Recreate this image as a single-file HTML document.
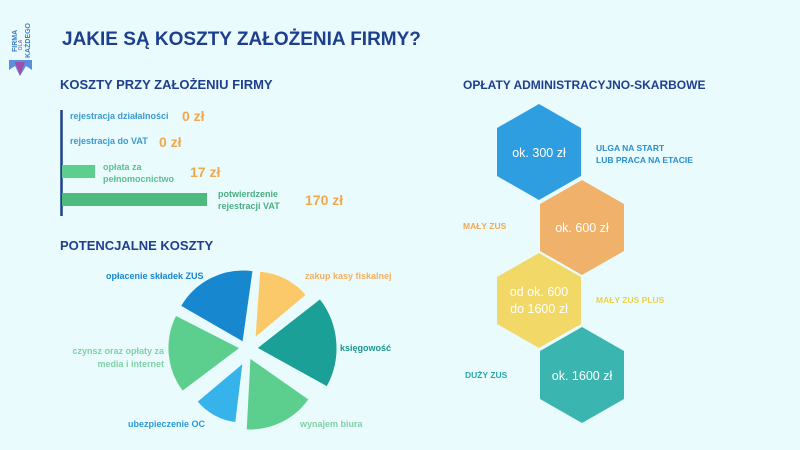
<!DOCTYPE html>
<html><head><meta charset="utf-8"><style>
body{margin:0;width:800px;height:450px;background:#eafbfd;overflow:hidden;font-family:"Liberation Sans",sans-serif}
svg{position:absolute;left:0;top:0}
</style></head><body>
<svg width="800" height="450" viewBox="0 0 800 450" font-family="Liberation Sans, sans-serif" font-weight="bold">
<!-- logo -->
<text x="17" y="52" font-size="7" fill="#3a7fc8" transform="rotate(-90 17 52)">FIRMA</text>
<text x="22" y="50" font-size="5" fill="#8a6fc8" transform="rotate(-90 22 50)">DLA</text>
<text x="30" y="58" font-size="7" fill="#3a7fc8" transform="rotate(-90 30 58)">KAŻDEGO</text>
<polygon points="9,60 32,60 32,70 26,66 20,76 15,66 9,70" fill="#5a8ee0"/>
<polygon points="15,62 25,62 20,76" fill="#a04fa8"/>
<text x="62" y="45" font-size="19" fill="#1d3f8e">JAKIE SĄ KOSZTY ZAŁOŻENIA FIRMY?</text>
<text x="60" y="89" font-size="13" fill="#1d3f8e">KOSZTY PRZY ZAŁOŻENIU FIRMY</text>
<line x1="61.5" y1="110" x2="61.5" y2="216" stroke="#1d3f8e" stroke-width="2.5"/>
<text x="70" y="119" font-size="9" fill="#3a9ad0">rejestracja działalności</text>
<text x="182" y="121" font-size="14" fill="#f0a850">0 zł</text>
<text x="70" y="144" font-size="9" fill="#3a9ad0">rejestracja do VAT</text>
<text x="159" y="147" font-size="14" fill="#f0a850">0 zł</text>
<rect x="62" y="165" width="33" height="13" fill="#5ccf8e"/>
<text x="103" y="170" font-size="9" fill="#5cbf8e">opłata za</text>
<text x="103" y="182" font-size="9" fill="#5cbf8e">pełnomocnictwo</text>
<text x="190" y="177" font-size="14" fill="#f0a850">17 zł</text>
<rect x="62" y="193" width="145" height="13" fill="#4dbb7d"/>
<text x="218" y="197" font-size="9" fill="#4aae80">potwierdzenie</text>
<text x="218" y="209" font-size="9" fill="#4aae80">rejestracji VAT</text>
<text x="305" y="205" font-size="14" fill="#f0a850">170 zł</text>
<text x="60" y="250" font-size="13" fill="#1d3f8e">POTENCJALNE KOSZTY</text>
<g stroke="#eafbfd" stroke-width="1">
<path d="M243,342 L180.6,306 A72 72 0 0 1 253,270.7 Z" fill="#1787d0"/>
<path d="M255,338 L259.7,271.2 A67 67 0 0 1 306.3,294.9 Z" fill="#fcc96a"/>
<path d="M257,348 L320,298.7 A80 80 0 0 1 327,386.8 Z" fill="#1aa096"/>
<path d="M250,358 L309,399.3 A72 72 0 0 1 246.2,429.9 Z" fill="#5ccf8e"/>
<path d="M243,363 L235.7,422.6 A60 60 0 0 1 197,401.6 Z" fill="#36b3ea"/>
<path d="M240,348 L182.5,391.3 A72 72 0 0 1 175.8,315.3 Z" fill="#5ccf8e"/>
</g>
<text x="106" y="279" font-size="9" fill="#1787d0">opłacenie składek ZUS</text>
<text x="305" y="279" font-size="9" fill="#f5b060">zakup kasy fiskalnej</text>
<text x="340" y="351" font-size="9" fill="#1a958e">księgowość</text>
<text x="164" y="354" font-size="9" fill="#7fd2a6" text-anchor="end">czynsz oraz opłaty za</text>
<text x="164" y="367" font-size="9" fill="#7fd2a6" text-anchor="end">media i internet</text>
<text x="128" y="427" font-size="9" fill="#2a9ad8">ubezpieczenie OC</text>
<text x="300" y="427" font-size="9" fill="#7fd2a6">wynajem biura</text>
<text x="463" y="89" font-size="12" fill="#1d3f8e">OPŁATY ADMINISTRACYJNO-SKARBOWE</text>
<polygon points="539,104 581,128 581,176 539,200 497,176 497,128" fill="#2f9ee0"/>
<polygon points="582,180 624,204 624,251 582,275 540,251 540,204" fill="#f0b26a"/>
<polygon points="539,253 581,277 581,324 539,348 497,324 497,277" fill="#f2d866"/>
<polygon points="582,327 624,351 624,399 582,423 540,399 540,351" fill="#3ab5b0"/>
<g fill="#fff" font-weight="normal" font-size="12.5" text-anchor="middle">
<text x="539" y="157">ok. 300 zł</text>
<text x="582" y="232">ok. 600 zł</text>
<text x="539" y="296">od ok. 600</text>
<text x="539" y="313">do 1600 zł</text>
<text x="582" y="380">ok. 1600 zł</text>
</g>
<text x="596" y="151" font-size="8.5" fill="#2a8ed0">ULGA NA START</text>
<text x="596" y="163" font-size="8.5" fill="#2a8ed0">LUB PRACA NA ETACIE</text>
<text x="463" y="229" font-size="8.5" fill="#f0a850">MAŁY ZUS</text>
<text x="596" y="303" font-size="8.5" fill="#e8d050">MAŁY ZUS PLUS</text>
<text x="465" y="378" font-size="8.5" fill="#2aa8a8">DUŻY ZUS</text>
</svg>
</body></html>
